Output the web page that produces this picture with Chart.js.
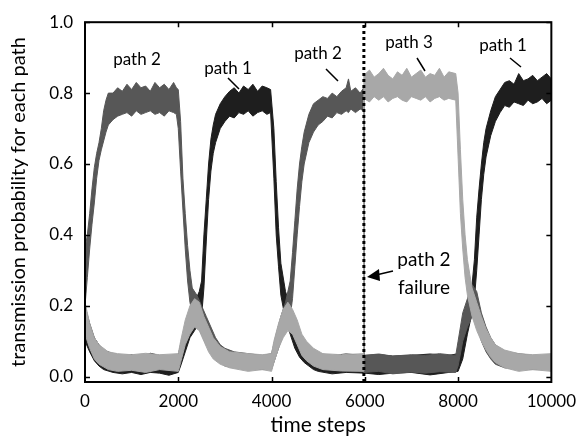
<!DOCTYPE html>
<html>
<head>
<meta charset="utf-8">
<script src="https://cdn.jsdelivr.net/npm/chart.js@4.4.0/dist/chart.umd.min.js"></script>
<style>
  html, body { margin: 0; padding: 0; background: #fff; }
  #wrap { width: 585px; height: 440px; }
</style>
</head>
<body>
<div id="wrap"><canvas id="chart" width="585" height="440"></canvas></div>
<script>
// axis ticks
const xTicks = [0, 2000, 4000, 6000, 8000, 10000];
const yTicks = [0, 0.2, 0.4, 0.6, 0.8, 1.0];
const failureStep = 5980;

// each path is drawn as a noisy band: lower and upper edge
const path1Steps = [0, 100, 200, 300, 400, 600, 800, 1000, 1200, 1400, 1600, 1800, 2000,
  2050, 2150, 2250, 2350, 2450, 2500, 2550, 2600, 2650, 2700, 2750, 2800, 2900, 3000, 3100, 3200, 3300, 3400, 3500, 3600, 3700, 3800, 3900, 3980,
  4050, 4100, 4150, 4200, 4300, 4400, 4500, 4600, 4700, 4800, 4900, 5000, 5300, 5600, 6000, 6300, 6600, 7000, 7400, 7800, 8000,
  8100, 8200, 8300, 8350, 8400, 8450, 8500, 8550, 8600, 8700, 8800, 8900, 9000, 9100, 9200, 9300, 9400, 9500, 9600, 9700, 9800, 9900, 10000];
const path1Low = [0.10, 0.07, 0.045, 0.03, 0.02, 0.012, 0.008, 0.012, 0.006, 0.012, 0.01, 0.004, 0.012,
  0.03, 0.07, 0.11, 0.13, 0.15, 0.17, 0.25, 0.38, 0.50, 0.58, 0.63, 0.66, 0.70, 0.72, 0.735, 0.73, 0.745, 0.74, 0.75, 0.735, 0.745, 0.75, 0.74, 0.745,
  0.56, 0.40, 0.31, 0.23, 0.16, 0.12, 0.08, 0.055, 0.04, 0.03, 0.02, 0.015, 0.008, 0.012, 0.01, 0.006, 0.01, 0.012, 0.005, 0.012, 0.015,
  0.05, 0.12, 0.18, 0.22, 0.30, 0.40, 0.50, 0.57, 0.62, 0.68, 0.72, 0.745, 0.765, 0.76, 0.775, 0.77, 0.765, 0.78, 0.77, 0.775, 0.785, 0.77, 0.78];
const path1High = [0.20, 0.15, 0.11, 0.09, 0.075, 0.065, 0.06, 0.062, 0.058, 0.066, 0.06, 0.058, 0.062,
  0.09, 0.14, 0.18, 0.21, 0.24, 0.27, 0.40, 0.50, 0.60, 0.67, 0.71, 0.74, 0.77, 0.79, 0.805, 0.815, 0.80, 0.82, 0.81, 0.825, 0.805, 0.82, 0.815, 0.81,
  0.70, 0.55, 0.42, 0.32, 0.24, 0.20, 0.15, 0.12, 0.09, 0.08, 0.07, 0.065, 0.06, 0.064, 0.06, 0.062, 0.058, 0.06, 0.064, 0.06, 0.065,
  0.13, 0.20, 0.26, 0.33, 0.45, 0.53, 0.60, 0.66, 0.70, 0.75, 0.79, 0.81, 0.83, 0.835, 0.825, 0.855, 0.835, 0.84, 0.85, 0.835, 0.845, 0.855, 0.84];

const path2Steps = [0, 50, 100, 150, 200, 250, 300, 350, 400, 450, 500, 600, 700, 800, 900, 1000, 1100, 1200, 1300, 1400, 1500, 1600, 1700, 1800, 1900, 1960,
  2000, 2050, 2100, 2150, 2200, 2250, 2300, 2400, 2500, 2600, 2700, 2800, 2900, 3000, 3200, 3500, 3800, 4000,
  4100, 4200, 4300, 4400, 4450, 4500, 4550, 4600, 4650, 4700, 4800, 4900, 5000, 5100, 5200, 5300, 5400, 5500, 5600, 5650, 5700, 5800, 5900, 5975,
  5980, 6300, 6600, 7000, 7300, 7600, 7950,
  8000, 8100, 8200, 8300, 8400, 8500, 8600, 8700, 8800, 9000, 9300, 9600, 10000];
const path2Low = [0.20, 0.28, 0.36, 0.43, 0.49, 0.56, 0.61, 0.64, 0.665, 0.69, 0.71, 0.725, 0.735, 0.74, 0.745, 0.735, 0.75, 0.74, 0.745, 0.75, 0.74, 0.745, 0.735, 0.75, 0.745, 0.74,
  0.70, 0.58, 0.47, 0.36, 0.27, 0.21, 0.18, 0.15, 0.12, 0.09, 0.07, 0.05, 0.04, 0.03, 0.025, 0.02, 0.02, 0.02,
  0.06, 0.10, 0.14, 0.17, 0.22, 0.31, 0.40, 0.48, 0.55, 0.60, 0.66, 0.69, 0.71, 0.72, 0.735, 0.73, 0.745, 0.74, 0.75, 0.745, 0.755, 0.745, 0.755, 0.75,
  0.012, 0.015, 0.008, 0.013, 0.01, 0.014, 0.012,
  0.03, 0.10, 0.14, 0.17, 0.15, 0.10, 0.07, 0.05, 0.035, 0.025, 0.02, 0.02, 0.02];
const path2High = [0.36, 0.40, 0.46, 0.53, 0.59, 0.63, 0.66, 0.70, 0.75, 0.78, 0.80, 0.80, 0.815, 0.805, 0.825, 0.81, 0.83, 0.815, 0.82, 0.805, 0.83, 0.815, 0.825, 0.81, 0.83, 0.815,
  0.81, 0.72, 0.56, 0.46, 0.37, 0.30, 0.25, 0.23, 0.20, 0.17, 0.14, 0.11, 0.09, 0.08, 0.07, 0.065, 0.06, 0.065,
  0.12, 0.17, 0.21, 0.27, 0.35, 0.44, 0.53, 0.60, 0.65, 0.69, 0.74, 0.77, 0.78, 0.79, 0.785, 0.80, 0.79, 0.805, 0.815, 0.84, 0.805, 0.815, 0.80, 0.815,
  0.06, 0.064, 0.058, 0.062, 0.06, 0.065, 0.06,
  0.10, 0.18, 0.22, 0.26, 0.24, 0.18, 0.14, 0.11, 0.09, 0.07, 0.065, 0.06, 0.06];

const path3Steps = [0, 50, 100, 200, 300, 500, 700, 1000, 1300, 1600, 2000,
  2050, 2150, 2250, 2350, 2450, 2550, 2650, 2750, 2900, 3100, 3500, 3800, 4000,
  4050, 4150, 4250, 4350, 4450, 4550, 4650, 4750, 4900, 5100, 5500, 5975,
  5980, 6100, 6200, 6300, 6400, 6500, 6600, 6700, 6800, 6900, 7000, 7100, 7200, 7300, 7400, 7500, 7600, 7700, 7800, 7950,
  8000, 8050, 8100, 8150, 8200, 8300, 8400, 8500, 8600, 8700, 8800, 9000, 9300, 9600, 10000];
const path3Low = [0.12, 0.10, 0.08, 0.05, 0.035, 0.02, 0.015, 0.018, 0.012, 0.02, 0.015,
  0.04, 0.09, 0.12, 0.14, 0.13, 0.10, 0.07, 0.05, 0.035, 0.025, 0.015, 0.02, 0.015,
  0.04, 0.08, 0.11, 0.13, 0.12, 0.09, 0.06, 0.045, 0.03, 0.02, 0.016, 0.015,
  0.785, 0.775, 0.79, 0.78, 0.79, 0.775, 0.785, 0.79, 0.78, 0.775, 0.79, 0.785, 0.78, 0.79, 0.775, 0.785, 0.79, 0.78, 0.785, 0.78,
  0.62, 0.46, 0.36, 0.28, 0.23, 0.17, 0.13, 0.10, 0.075, 0.055, 0.04, 0.025, 0.015, 0.02, 0.015];
const path3High = [0.21, 0.18, 0.15, 0.11, 0.09, 0.07, 0.065, 0.062, 0.066, 0.062, 0.065,
  0.10, 0.16, 0.20, 0.22, 0.21, 0.17, 0.14, 0.11, 0.085, 0.07, 0.065, 0.062, 0.065,
  0.10, 0.15, 0.19, 0.21, 0.19, 0.16, 0.12, 0.10, 0.08, 0.065, 0.062, 0.065,
  0.85, 0.865, 0.845, 0.855, 0.87, 0.85, 0.84, 0.86, 0.85, 0.87, 0.845, 0.855, 0.865, 0.845, 0.855, 0.85, 0.87, 0.845, 0.86, 0.855,
  0.80, 0.64, 0.50, 0.40, 0.33, 0.25, 0.21, 0.17, 0.135, 0.11, 0.09, 0.075, 0.065, 0.062, 0.065];

const pathColors = ['#1e1e1e', '#575757', '#a8a8a8'];

function toPoints(steps, values) {
  return steps.map((s, i) => ({ x: s, y: values[i] }));
}

// a pair of datasets per path: lower edge, then upper edge filled down to it
function band(steps, low, high, color, order) {
  const base = { borderColor: color, borderWidth: 1, pointRadius: 0, tension: 0, order: order };
  return [
    Object.assign({}, base, { data: toPoints(steps, low), fill: false }),
    Object.assign({}, base, { data: toPoints(steps, high), fill: '-1', backgroundColor: color })
  ];
}

// text labels and pointer lines (pixel positions)
const notes = [
  { text: 'path 2', x: 137, y: 60, size: 17 },
  { text: 'path 1', x: 228, y: 69, size: 17 },
  { text: 'path 2', x: 318, y: 54, size: 17 },
  { text: 'path 3', x: 409, y: 43, size: 17 },
  { text: 'path 1', x: 503, y: 46, size: 17 },
  { text: 'path 2', x: 424, y: 260, size: 19 },
  { text: 'failure', x: 424, y: 288, size: 19 }
];
const pointers = [
  [228, 78, 239, 89],
  [326, 69, 338, 81],
  [417, 58, 425, 71],
  [510, 58, 521, 67]
];

const framePlugin = {
  id: 'frame',
  afterDatasetsDraw(chart) {
    const { ctx, chartArea: a, scales } = chart;
    ctx.save();
    ctx.strokeStyle = '#000';
    ctx.lineWidth = 2;
    ctx.strokeRect(a.left, a.top, a.right - a.left, a.bottom - a.top);

    // ticks point inward on all four sides
    ctx.lineWidth = 1.5;
    ctx.beginPath();
    xTicks.slice(1, -1).forEach(v => {
      const px = Math.round(scales.x.getPixelForValue(v)) + 0.5;
      ctx.moveTo(px, a.bottom); ctx.lineTo(px, a.bottom - 5);
      ctx.moveTo(px, a.top); ctx.lineTo(px, a.top + 5);
    });
    yTicks.forEach(v => {
      const py = Math.round(scales.y.getPixelForValue(v)) + 0.5;
      ctx.moveTo(a.left, py); ctx.lineTo(a.left + 5, py);
      ctx.moveTo(a.right, py); ctx.lineTo(a.right - 5, py);
    });
    ctx.stroke();

    ctx.fillStyle = '#000';
    ctx.textAlign = 'center';
    ctx.textBaseline = 'middle';
    notes.forEach(n => {
      ctx.font = n.size + 'px Lato';
      ctx.fillText(n.text, n.x, n.y);
    });

    ctx.lineWidth = 1.5;
    ctx.beginPath();
    pointers.forEach(p => { ctx.moveTo(p[0], p[1]); ctx.lineTo(p[2], p[3]); });
    // arrow toward the failure line
    ctx.moveTo(393, 271); ctx.lineTo(376, 275);
    ctx.stroke();
    ctx.beginPath();
    ctx.moveTo(367, 277);
    ctx.lineTo(379, 269);
    ctx.lineTo(380, 281);
    ctx.closePath();
    ctx.fill();
    ctx.restore();
  }
};

Chart.defaults.font.family = 'Lato';
Chart.defaults.color = '#000';

new Chart(document.getElementById('chart'), {
  type: 'line',
  data: {
    datasets: [
      ...band(path1Steps, path1Low, path1High, pathColors[0], 3),
      ...band(path2Steps, path2Low, path2High, pathColors[1], 2),
      ...band(path3Steps, path3Low, path3High, pathColors[2], 1),
      {
        data: [{ x: failureStep, y: -0.015 }, { x: failureStep, y: 1.0 }],
        borderColor: '#000',
        borderWidth: 3,
        borderDash: [3, 3],
        pointRadius: 0,
        fill: false,
        order: 0
      }
    ]
  },
  options: {
    responsive: false,
    animation: false,
    layout: { padding: { top: 13, right: 29, left: 0, bottom: 0 } },
    plugins: {
      legend: { display: false },
      tooltip: { enabled: false }
    },
    scales: {
      x: {
        type: 'linear',
        min: 0,
        max: 10000,
        afterBuildTicks: scale => { scale.ticks = xTicks.map(v => ({ value: v })); },
        afterFit: scale => { scale.height = 58; },
        grid: { display: false, drawTicks: false },
        border: { display: false },
        ticks: {
          font: { size: 17 },
          padding: 9,
          maxRotation: 0,
          callback: v => String(v)
        },
        title: {
          display: true,
          text: 'time steps',
          font: { size: 21 },
          padding: { top: 0, bottom: 2 }
        }
      },
      y: {
        type: 'linear',
        min: -0.015,
        max: 1.0,
        afterBuildTicks: scale => { scale.ticks = yTicks.map(v => ({ value: v })); },
        afterFit: scale => { scale.width = 85; },
        grid: { display: false, drawTicks: false },
        border: { display: false },
        ticks: {
          font: { size: 17 },
          padding: 12,
          callback: v => v.toFixed(1)
        },
        title: {
          display: true,
          text: 'transmission probability for each path',
          font: { size: 20 },
          padding: { top: 7, bottom: 0 }
        }
      }
    }
  },
  plugins: [framePlugin]
});
</script>
</body>
</html>
